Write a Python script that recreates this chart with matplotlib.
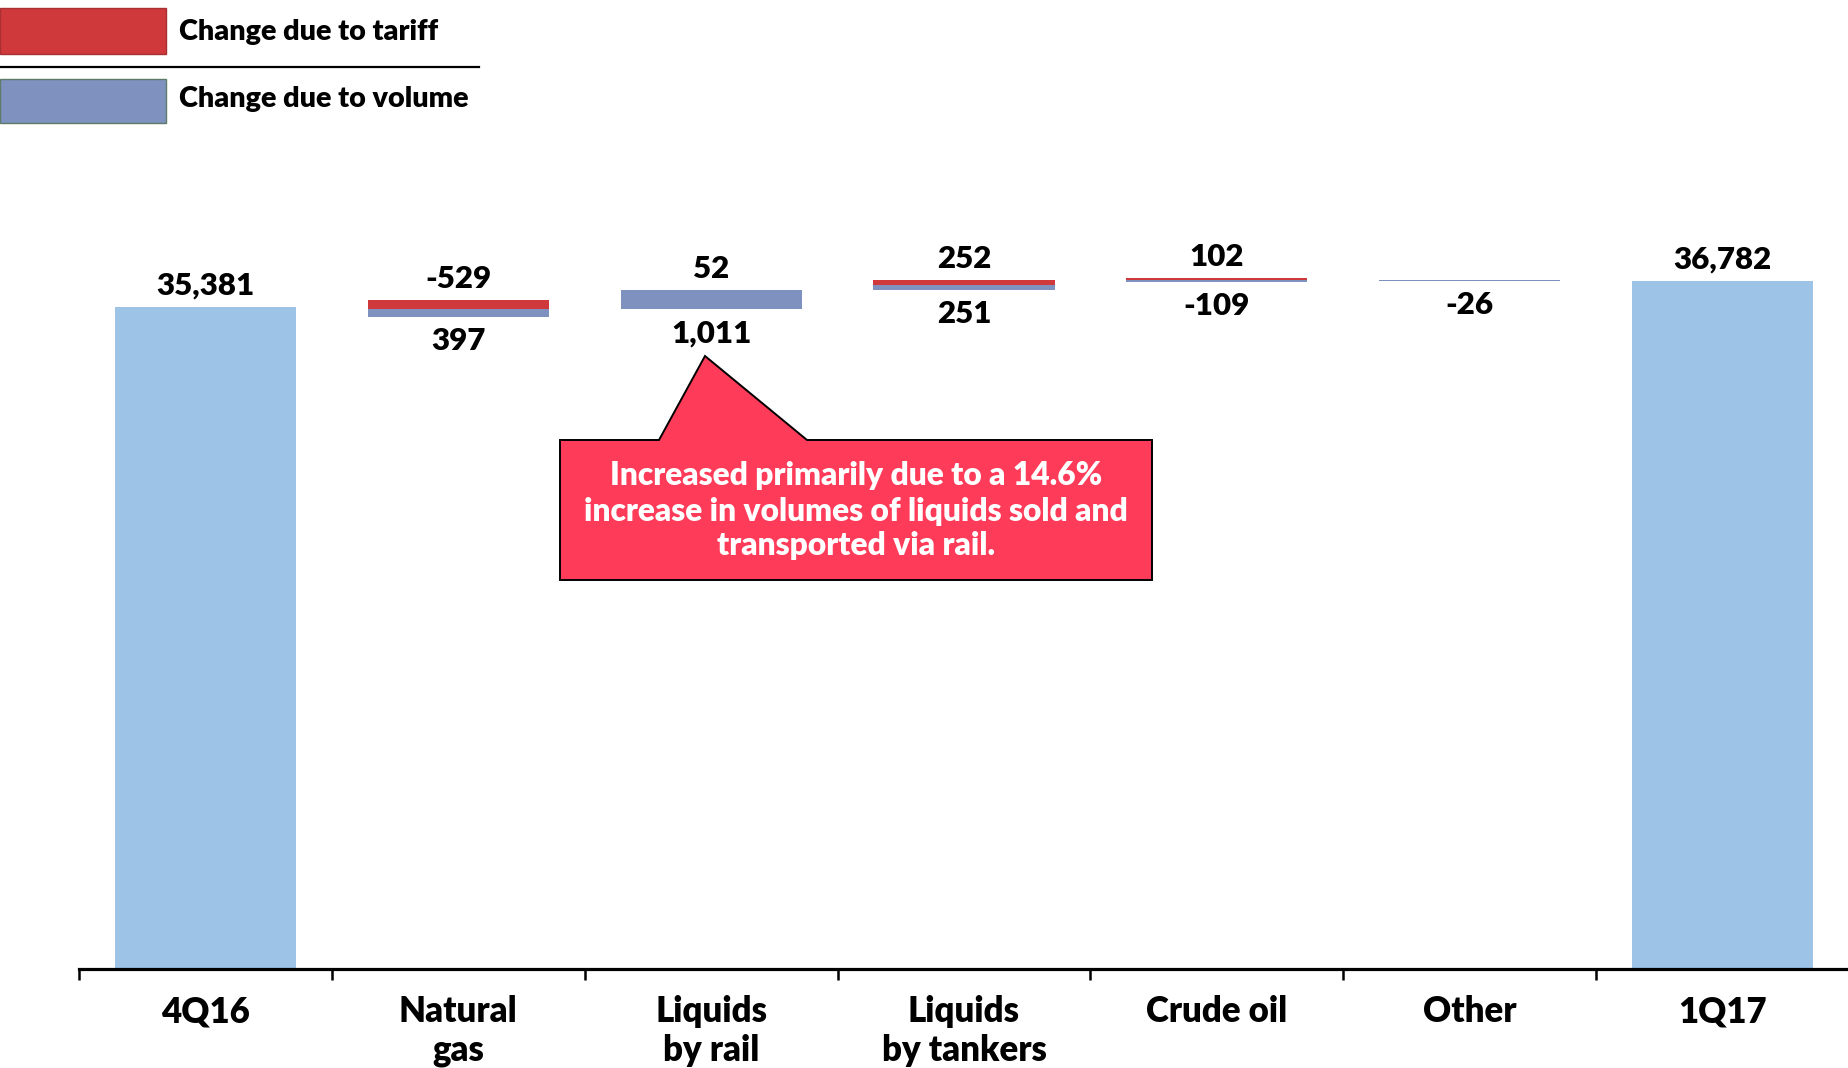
import numpy as np
import matplotlib
matplotlib.use("Agg")
import matplotlib.pyplot as plt
from matplotlib.patches import Polygon, Rectangle
from matplotlib.lines import Line2D

plt.rcParams['font.family'] = ['Lato', 'DejaVu Sans']
plt.rcParams['font.weight'] = 'bold'

# data
categories = ['4Q16', 'Natural\ngas', 'Liquids\nby rail', 'Liquids\nby tankers',
              'Crude oil', 'Other', '1Q17']
start_total = 35381
end_total = 36782
tariff = [-529, 52, 252, 102, 0]
volume = [397, 1011, 251, -109, -26]
tariff_labels = ['-529', '52', '252', '102', '']
volume_labels = ['397', '1,011', '251', '-109', '-26']
note = "Increased primarily due to a 14.6%\nincrease in volumes of liquids sold and\ntransported via rail."

c_total = '#9DC3E6'
c_tariff = '#CF393B'
c_volume = '#7F92BF'
c_note = '#FF3B5A'

W, H = 1849, 1068
fig = plt.figure(figsize=(W / 100, H / 100), dpi=100)
ax = fig.add_axes([79 / W, (H - 969) / H, 1 - 79 / W, 969 / H])
ax.set_xlim(-0.5, 6.5)
ax.set_ylim(0, 969 * 53.44)

bw = 0.716
fs = 22.5
wt = 'heavy'

def label(x, y, txt, up):
    off = 21 if up else -24
    ax.annotate(txt, (x, y), xytext=(0, off * 0.72), textcoords='offset points',
                ha='center', va='center', fontsize=fs, fontweight=wt, color='black')

# totals
ax.bar(0, start_total, width=bw, color=c_total)
label(0, start_total, f'{start_total:,}', True)
ax.bar(6, end_total, width=bw, color=c_total)
label(6, end_total, f'{end_total:,}', True)

# changes
running = start_total
for i, (t, v) in enumerate(zip(tariff, volume)):
    x = i + 1
    neg = min(t, 0) + min(v, 0)
    bottom = running + neg
    ax.bar(x, abs(v), bottom=bottom, width=bw, color=c_volume, linewidth=0)
    if t != 0:
        ax.bar(x, abs(t), bottom=bottom + abs(v), width=bw, color=c_tariff, linewidth=0)
        label(x, bottom + abs(v) + abs(t), tariff_labels[i], True)
    label(x, bottom, volume_labels[i], False)
    running += t + v

# axis
for s in ['top', 'left', 'right']:
    ax.spines[s].set_visible(False)
ax.spines['bottom'].set_linewidth(2.3)
ax.set_yticks([])
ax.set_xticks(np.arange(len(categories)))
ax.set_xticklabels(categories, fontsize=25, fontweight=wt, linespacing=1.2)
ax.tick_params(axis='x', which='major', length=0, pad=19)
ax.set_xticks(np.arange(-0.5, 6.0, 1.0), minor=True)
ax.tick_params(axis='x', which='minor', length=8, width=1.8, direction='out')

# legend
def px(x, y):
    return x / W, 1 - y / H

fig.patches.append(Rectangle(px(0, 54), 166 / W, 46 / H, transform=fig.transFigure,
                             facecolor=c_tariff, edgecolor='#A83032', linewidth=1))
fig.patches.append(Rectangle(px(0, 123), 166 / W, 44 / H, transform=fig.transFigure,
                             facecolor=c_volume, edgecolor='#5E7A6A', linewidth=1))
fig.lines.append(Line2D([0, 479 / W], [1 - 67 / H] * 2, transform=fig.transFigure,
                        color='black', linewidth=1.6))
fig.text(*px(179, 32), 'Change due to tariff', fontsize=20.7, fontweight=wt, va='center')
fig.text(*px(179, 99), 'Change due to volume', fontsize=20.7, fontweight=wt, va='center')

# callout
pts = [(560, 440), (659, 440), (705, 356), (807, 440), (1152, 440), (1152, 580), (560, 580)]
fig.patches.append(Polygon([px(*p) for p in pts], closed=True, transform=fig.transFigure,
                           facecolor=c_note, edgecolor='black', linewidth=1.4))
fig.text(*px(856, 511), note, fontsize=22.9, fontweight=wt, color='white',
         ha='center', va='center', linespacing=1.25)

fig.savefig('out.png', dpi=100)
